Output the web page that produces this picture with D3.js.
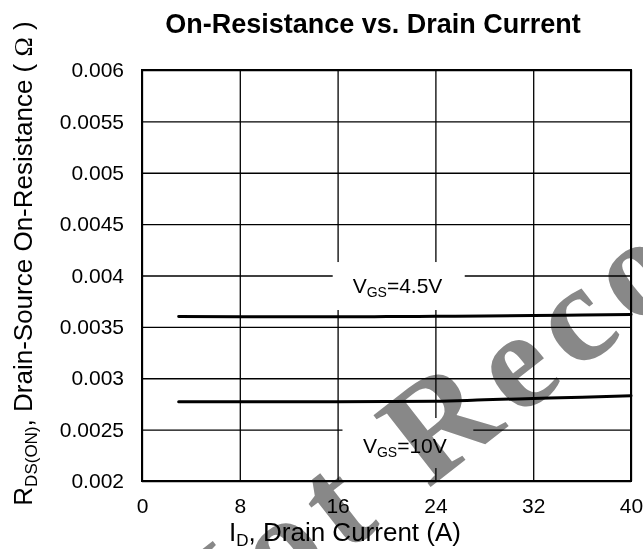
<!DOCTYPE html>
<html><head><meta charset="utf-8">
<script src="https://cdn.jsdelivr.net/npm/d3@7"></script>
<style>
html,body{margin:0;padding:0;background:#fff;}
svg{display:block;font-family:"Liberation Sans",Arial,sans-serif;}
</style></head>
<body>
<svg id="chart" width="643" height="549"></svg>
<script>
// ---- data ----
const xTicks = [0, 8, 16, 24, 32, 40];
const xTickLabels = ["0", "8", "16", "24", "32", "40"];
const yTicks = [0.002, 0.0025, 0.003, 0.0035, 0.004, 0.0045, 0.005, 0.0055, 0.006];
const yTickLabels = ["0.002", "0.0025", "0.003", "0.0035", "0.004", "0.0045", "0.005", "0.0055", "0.006"];
const current = [3, 8, 16, 20, 24, 28, 32, 36, 40];
const vgs45 = [0.0036, 0.003598, 0.003598, 0.0036, 0.003603, 0.003606, 0.00361, 0.003615, 0.00362];
const vgs10 = [0.002772, 0.002772, 0.002772, 0.002773, 0.002776, 0.00279, 0.002803, 0.002816, 0.00283];
const seriesNames = ["4.5V", "10V"];
const labelPos = [{I: 20.9, R: 0.00383, box: [15.6, 26.4, 0.004131, 0.003664]},
                  {I: 21.5, R: 0.002273, box: [16.4, 27.1, 0.002613, 0.002126]}];
const title = "On-Resistance vs. Drain Current";
const watermark = ["Not", "Recommended"];

// ---- layout ----
const svg = d3.select("#chart");
const x = d3.scaleLinear().domain([0, 40]).range([142, 631]);
const y = d3.scaleLinear().domain([0.002, 0.006]).range([481, 70]);
const W = x.range()[1] - x.range()[0];
const H = y.range()[0] - y.range()[1];

svg.append("rect").attr("width", 643).attr("height", 549).attr("fill", "#fff");

// grid via axes
const gx = svg.append("g").attr("transform", `translate(0,${y.range()[0]})`)
  .call(d3.axisBottom(x).tickValues(xTicks).tickSize(-H).tickPadding(17)
        .tickFormat((d, i) => xTickLabels[i]));
const gy = svg.append("g").attr("transform", `translate(${x.range()[0]},0)`)
  .call(d3.axisLeft(y).tickValues(yTicks).tickSize(-W).tickPadding(18)
        .tickFormat((d, i) => yTickLabels[i]));
[gx, gy].forEach(g => {
  g.select(".domain").remove();
  g.selectAll(".tick line").attr("stroke", "#000").attr("stroke-width", 1.3);
  g.selectAll(".tick text").attr("fill", "#000").attr("font-size", 21)
    .attr("font-family", "Liberation Sans, Arial, sans-serif");
});

// label boxes (white) hiding grid
labelPos.forEach(p => {
  svg.append("rect")
    .attr("x", x(p.box[0])).attr("y", y(p.box[2]))
    .attr("width", x(p.box[1]) - x(p.box[0]))
    .attr("height", y(p.box[3]) - y(p.box[2]))
    .attr("fill", "#fff");
});

// frame
svg.append("rect").attr("x", x.range()[0]).attr("y", y.range()[1])
  .attr("width", W).attr("height", H)
  .attr("fill", "none").attr("stroke", "#000").attr("stroke-width", 2);

// series
const line = d3.line().x(d => x(d[0])).y(d => y(d[1])).curve(d3.curveMonotoneX);
[vgs45, vgs10].forEach(vals => {
  svg.append("path").datum(current.map((c, i) => [c, vals[i]]))
    .attr("d", line).attr("fill", "none").attr("stroke", "#000")
    .attr("stroke-width", 3).attr("stroke-linecap", "round");
});

// series labels
labelPos.forEach((p, i) => {
  const t = svg.append("text").attr("x", x(p.I)).attr("y", y(p.R))
    .attr("text-anchor", "middle").attr("font-size", 21).attr("fill", "#000");
  t.append("tspan").text("V");
  t.append("tspan").attr("font-size", 14).attr("dy", 4).text("GS");
  t.append("tspan").attr("dy", -4).text("=" + seriesNames[i]);
});

// title
svg.append("text").attr("x", 373).attr("y", 33).attr("text-anchor", "middle")
  .attr("font-size", 27).attr("font-weight", "bold").attr("fill", "#000").text(title);

// x axis label
const xl = svg.append("text").attr("x", 345).attr("y", 541).attr("text-anchor", "middle")
  .attr("font-size", 26).attr("fill", "#000");
xl.append("tspan").text("I");
xl.append("tspan").attr("font-size", 17).attr("dy", 5).text("D");
xl.append("tspan").attr("dy", -5).text(", Drain Current (A)");

// y axis label
const yl = svg.append("text").attr("transform", "rotate(-90)")
  .attr("x", -263.5).attr("y", 32).attr("text-anchor", "middle")
  .attr("font-size", 26).attr("fill", "#000");
yl.append("tspan").text("R");
yl.append("tspan").attr("font-size", 17).attr("dy", 5).text("DS(ON)");
yl.append("tspan").attr("dy", -5).text(", Drain-Source On-Resistance ( ");
yl.append("tspan").attr("font-family", "Liberation Serif, Times New Roman, serif").text("\u03A9");
yl.append("tspan").text(" )");

// watermark
const wm = svg.append("g").attr("transform", "translate(428,489) rotate(-38)")
  .style("mix-blend-mode", "multiply");
wm.append("text").attr("x", -47).attr("y", 0).attr("text-anchor", "end")
  .attr("font-family", "Liberation Serif, Times New Roman, serif").attr("font-weight", "bold")
  .attr("font-size", 140).attr("letter-spacing", 12).attr("fill", "#888888").text(watermark[0]);
wm.append("text").attr("x", 0).attr("y", 0).attr("text-anchor", "start")
  .attr("font-family", "Liberation Serif, Times New Roman, serif").attr("font-weight", "bold")
  .attr("font-size", 140).attr("letter-spacing", 12).attr("fill", "#888888").text(watermark[1]);
</script>
</body></html>
